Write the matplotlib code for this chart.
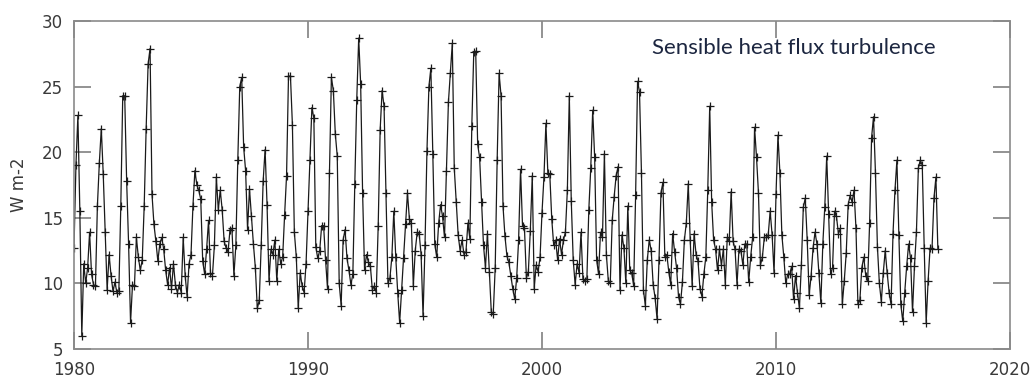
import numpy as np
import matplotlib
matplotlib.use("Agg")
import matplotlib.pyplot as plt

# monthly sensible heat flux turbulence (W m-2), Jan 1980 onwards
flux_1980s = [
    12.7, 19.0, 22.8, 15.5, 6.0, 11.5, 10.0, 11.2, 13.9, 10.7, 9.9, 9.8,
    15.9, 19.2, 21.8, 18.3, 13.9, 9.5, 12.2, 10.6, 9.4, 10.1, 9.3, 9.4,
    15.9, 24.3, 24.3, 17.8, 13.0, 7.0, 9.9, 9.8, 13.5, 12.0, 11.0, 11.8,
    15.9, 21.8, 26.7, 27.9, 16.8, 14.5, 13.2, 11.7, 13.0, 13.5, 12.6, 11.0,
    9.9, 11.2, 9.6, 11.5, 9.9, 9.3, 9.9, 9.3, 13.5, 10.6, 9.0, 11.5,
    12.2, 15.9, 18.6, 17.5, 17.1, 16.4, 11.7, 10.7, 12.6, 14.8, 10.8, 10.6,
    12.9, 18.1, 15.6, 17.1, 15.6, 13.2, 12.7, 12.4, 14.1, 14.2, 10.6, 12.9,
    19.4, 25.0, 25.7, 20.4, 18.6, 14.1, 17.2, 15.1, 13.0, 11.2, 8.1, 8.7,
    12.9, 17.8, 20.2, 16.0, 10.2, 12.6, 12.2, 13.3, 10.2, 12.6, 11.5, 12.0,
    15.2, 18.2, 25.8, 25.8, 22.1, 13.9, 12.0, 8.1, 10.8, 9.8, 9.3, 11.5,
]
flux_1990s = [
    15.5, 19.4, 23.4, 22.6, 12.8, 11.9, 12.5, 14.4, 14.4, 11.8, 9.6, 18.4,
    25.7, 24.7, 21.4, 19.7, 10.0, 8.3, 13.3, 14.1, 11.9, 11.0, 9.9, 10.7,
    17.6, 24.0, 28.7, 25.2, 16.9, 11.0, 12.2, 11.6, 11.3, 9.5, 9.8, 9.3,
    14.4, 21.7, 24.7, 23.5, 16.9, 10.0, 10.4, 12.0, 15.5, 12.0, 9.3, 7.0,
    9.5, 11.9, 14.5, 16.9, 14.9, 14.6, 9.8, 12.5, 13.9, 13.8, 12.2, 7.5,
    12.9, 20.1, 25.0, 26.4, 19.9, 13.0, 12.0, 14.6, 16.0, 15.1, 13.5, 18.6,
    23.8, 26.0, 28.3, 18.8, 16.2, 13.7, 12.5, 13.3, 12.2, 12.4, 14.6, 13.4,
    22.0, 27.6, 27.7, 20.6, 19.6, 16.2, 12.9, 11.2, 13.8, 10.9, 7.8, 7.7,
    11.2, 19.4, 26.0, 24.3, 15.9, 13.6, 12.1, 11.6, 10.6, 9.6, 8.8, 10.4,
    13.3, 18.7, 14.4, 14.2, 10.4, 10.9, 14.0, 18.2, 9.6, 11.4, 10.9, 12.0,
]
flux_2000s = [
    15.4, 18.1, 22.2, 18.4, 18.3, 14.9, 12.9, 13.3, 11.8, 13.4, 12.2, 13.3,
    13.9, 17.1, 24.3, 16.3, 11.8, 9.9, 11.5, 10.8, 13.9, 10.3, 10.2, 10.3,
    15.6, 18.8, 23.2, 19.6, 11.8, 10.7, 13.9, 13.5, 19.9, 12.2, 10.2, 10.0,
    14.8, 16.6, 18.2, 18.9, 9.5, 13.7, 12.7, 10.0, 15.9, 11.0, 10.8, 9.8,
    16.7, 25.4, 24.6, 18.4, 9.5, 8.3, 11.8, 13.3, 12.5, 9.9, 8.9, 7.3,
    11.8, 16.9, 17.7, 12.0, 12.2, 10.9, 9.9, 13.8, 12.4, 11.2, 9.0, 8.4,
    10.1, 13.3, 14.6, 17.6, 13.3, 9.8, 13.8, 12.2, 11.7, 9.6, 9.0, 10.7,
    12.0, 17.1, 23.5, 16.2, 13.3, 12.6, 11.0, 12.6, 11.4, 12.6, 9.9, 13.5,
    13.2, 17.0, 13.2, 12.6, 9.9, 12.6, 12.5, 11.4, 13.0, 13.0, 10.1, 12.0,
    13.5, 21.9, 19.6, 16.9, 11.4, 12.0, 13.5, 13.5, 13.7, 15.5, 13.7, 10.8,
]
flux_2010s = [
    16.8, 21.3, 18.4, 13.7, 12.0, 10.0, 10.7, 10.7, 11.3, 8.8, 10.6, 9.3,
    8.1, 11.4, 15.8, 16.5, 13.3, 9.1, 10.6, 12.7, 13.9, 13.0, 10.8, 8.5,
    13.0, 15.8, 19.7, 15.3, 10.7, 11.2, 15.5, 15.1, 13.8, 14.2, 8.4, 10.2,
    12.3, 16.0, 16.7, 16.2, 17.1, 14.2, 8.4, 8.7, 11.2, 12.0, 10.6, 10.2,
    14.6, 21.1, 22.7, 18.4, 12.8, 10.0, 8.6, 10.8, 12.5, 10.8, 9.3, 8.4,
    13.8, 17.1, 19.4, 13.7, 8.4, 7.1, 9.3, 11.3, 13.0, 11.9, 7.8, 11.3,
    13.9, 18.8, 19.4, 19.0, 12.7, 7.0, 10.2, 12.7, 12.6, 16.5, 18.1, 12.6,
]

start_year = 1980
x_ticks = [1980, 1990, 2000, 2010, 2020]
y_ticks = [5, 10, 15, 20, 25, 30]
title = "Sensible heat flux turbulence"

flux = np.array(flux_1980s + flux_1990s + flux_2000s + flux_2010s)
t = start_year + np.arange(len(flux)) / 12.0

fig = plt.figure(figsize=(10.32, 3.79), dpi=100)
ax = fig.add_axes([0.0717, 0.0792, 0.907, 0.8654])

ax.plot(t, flux, color="#1a1a1a", linewidth=0.9, marker="+",
        markersize=6, markeredgewidth=0.9)

ax.set_xlim(1980, 2020)
ax.set_ylim(5, 30)
ax.set_xticks(x_ticks)
ax.set_yticks(y_ticks)
ax.tick_params(direction="in", length=12, width=1.2, color="#808080",
               top=True, right=True, labelsize=12, labelcolor="#3a3a3a")
ax.tick_params(axis="x", pad=9)
ax.tick_params(axis="y", pad=8)
for sp in ax.spines.values():
    sp.set_color("#8a8a8a")
    sp.set_linewidth(1.2)

ax.set_ylabel("W m-2", fontsize=12, color="#3a3a3a", labelpad=10)

ax.text(0.6175, 0.918, title, transform=ax.transAxes, fontsize=16,
        family="Lato", color="#1c2640", va="center", ha="left")

fig.savefig("out.png", dpi=100)
